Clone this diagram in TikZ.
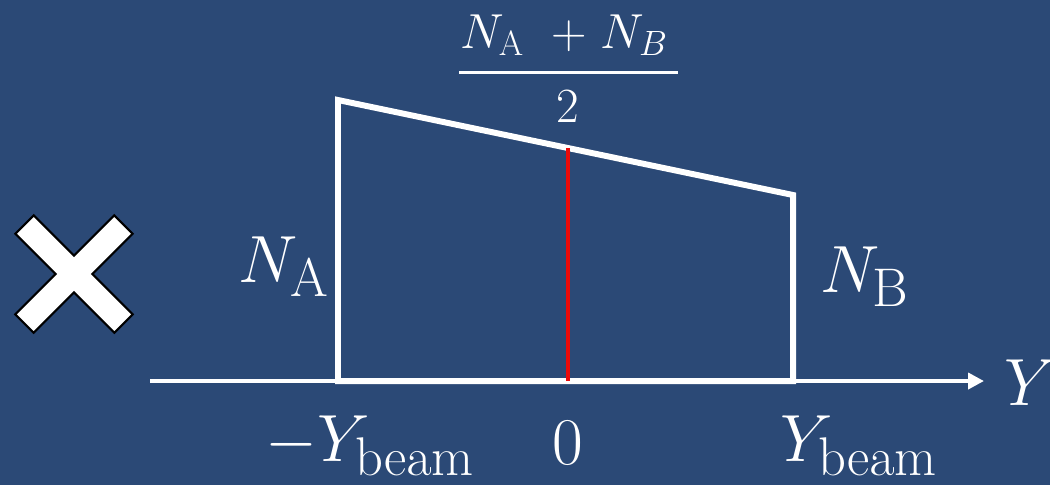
\RequirePackage{fix-cm}
\documentclass[tikz,border=0pt]{standalone}
\usepackage{amsmath}
\usetikzlibrary{arrows.meta}
\DeclareMathSizes{38}{38}{31}{24}
\DeclareMathSizes{28}{28}{20}{16}
\definecolor{bg}{RGB}{43,73,118}
\definecolor{redline}{RGB}{235,10,10}
\begin{document}
\begin{tikzpicture}[x=0.02cm,y=-0.02cm,
  lbl/.style={text=white,font=\fontsize{38}{44}\selectfont,inner sep=0pt},
  fraclbl/.style={text=white,font=\fontsize{28}{34}\selectfont,inner sep=0pt},
  shapeline/.style={draw=white,line width=3.4pt,line join=miter},
  axisline/.style={draw=white,line width=2.2pt,-{Triangle[length=9pt,width=9pt]}}]
\fill[bg] (0,0) rectangle (1050,485);
\useasboundingbox (0,0) rectangle (1050,485);
% cross mark
\begin{scope}[shift={(74,274)},rotate=45]
\filldraw[fill=white,draw=black,line width=1.2pt]
 (70,13)--(13,13)--(13,70)--(-13,70)--(-13,13)--(-70,13)--(-70,-13)--(-13,-13)--(-13,-70)--(13,-70)--(13,-13)--(70,-13)--cycle;
\end{scope}
% axis
\coordinate (axs) at (150,381);
\coordinate (axe) at (984,381);
\draw[axisline] (axs) -- (axe);
% trapezoid
\coordinate (bl) at (338,381);
\coordinate (tl) at (338,100);
\coordinate (tr) at (793,195);
\coordinate (br) at (793,381);
\coordinate (mb) at (568,381);
\coordinate (mt) at (568,148);
\draw[shapeline] (bl) -- (tl) -- (tr) -- (br) -- cycle;
\draw[draw=redline,line width=2.4pt] (mb) -- (mt);
% fraction
\node[fraclbl,anchor=base west] (num) at (460,48) {$N_{\mathrm{A}}\;\;{+}\;N_B$};
\coordinate (fbl) at (459,72);
\coordinate (fbr) at (678,72);
\draw[white,line width=1.7pt] (fbl) -- (fbr);
\node[fraclbl,anchor=base] (den) at (568,122) {$2$};
% labels
\node[lbl,anchor=base west] (na) at (238,282) {$N_{\mathrm{A}}$};
\node[lbl,anchor=base west] (nb) at (820,292) {$N_{\mathrm{B}}$};
\node[lbl,anchor=base west] (yl) at (1004,405) {$Y$};
\node[lbl,anchor=base west] (ym) at (265,461) {$-Y_{\mathrm{beam}}$};
\node[lbl,anchor=base] (zero) at (568,464) {$0$};
\node[lbl,anchor=base west] (yp) at (780,461) {$Y_{\mathrm{beam}}$};
\end{tikzpicture}
\end{document}
